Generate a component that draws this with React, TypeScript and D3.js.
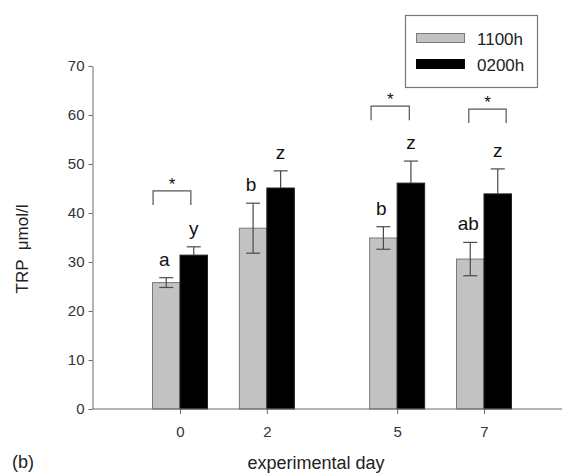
import * as d3 from 'd3';
import { useEffect, useRef } from 'react';

// experimental days (x is a real day scale, not bands)
const days = [0, 2, 5, 7];
const seriesNames = ['1100h', '0200h'];
const trp1100 = [25.8, 36.9, 34.9, 30.6];
const err1100 = [1.0, 5.1, 2.3, 3.4];
const trp0200 = [31.4, 45.1, 46.1, 43.9];
const err0200 = [1.7, 3.5, 4.5, 5.1];
const letters1100 = ['a', 'b', 'b', 'ab'];
const letters0200 = ['y', 'z', 'z', 'z'];
const yTicks = [0, 10, 20, 30, 40, 50, 60, 70];

// significance brackets: day, span (in days), level (umol/l)
const bracketDays = [0, 5, 7];
const bracketFrom = [-0.62, -0.6, -0.35];
const bracketTo = [0.25, 0.28, 0.51];
const bracketLevel = [44.5, 61.8, 61.2];

export default function App() {
  const ref = useRef<SVGSVGElement | null>(null);

  useEffect(() => {
    document.body.style.margin = '0';
    const svg = d3.select(ref.current);
    svg.selectAll('*').remove();

    const font = "'Liberation Sans', Arial, sans-serif";
    const axisColor = '#6a6a6a';
    const x = d3.scaleLinear().domain([0, 7]).range([180, 484]);
    const y = d3.scaleLinear().domain([0, 70]).range([409, 66]);
    const barW = 27.5;
    const axisX = 92.5;

    // y axis
    const gy = svg.append('g').attr('transform', `translate(${axisX},0)`)
      .call(d3.axisLeft(y).tickValues(yTicks).tickSize(4).tickSizeOuter(0).tickPadding(4));
    gy.select('.domain').attr('stroke', axisColor);
    gy.selectAll('line').attr('stroke', axisColor);
    gy.selectAll('text').style('font-family', font).style('font-size', '15px').attr('fill', '#333');

    // bars
    const rows = days.map((d, i) => ({ d, i }));
    svg.append('g').selectAll('rect').data(rows).enter().append('rect')
      .attr('x', r => x(r.d) - barW)
      .attr('y', r => y(trp1100[r.i]))
      .attr('width', barW)
      .attr('height', r => y(0) - y(trp1100[r.i]))
      .attr('fill', '#c2c2c2')
      .attr('stroke', '#7a7a7a')
      .attr('stroke-width', 1);
    svg.append('g').selectAll('rect').data(rows).enter().append('rect')
      .attr('x', r => x(r.d))
      .attr('y', r => y(trp0200[r.i]))
      .attr('width', barW)
      .attr('height', r => y(0) - y(trp0200[r.i]))
      .attr('fill', '#000')
      .attr('stroke', '#222');

    // error bars
    const cap = 7;
    const errG = svg.append('g').attr('stroke', '#4a4a4a').attr('stroke-width', 1.2).attr('fill', 'none');
    rows.forEach(r => {
      const cx = x(r.d) - barW / 2;
      const hi = y(trp1100[r.i] + err1100[r.i]);
      const lo = y(trp1100[r.i] - err1100[r.i]);
      errG.append('line').attr('x1', cx).attr('x2', cx).attr('y1', hi).attr('y2', lo);
      errG.append('line').attr('x1', cx - cap).attr('x2', cx + cap).attr('y1', hi).attr('y2', hi);
      errG.append('line').attr('x1', cx - cap).attr('x2', cx + cap).attr('y1', lo).attr('y2', lo);
      const bx = x(r.d) + barW / 2;
      const bhi = y(trp0200[r.i] + err0200[r.i]);
      errG.append('line').attr('x1', bx).attr('x2', bx).attr('y1', bhi).attr('y2', y(trp0200[r.i]));
      errG.append('line').attr('x1', bx - cap).attr('x2', bx + cap).attr('y1', bhi).attr('y2', bhi);
    });

    // letter labels
    const lab = svg.append('g').style('font-family', font).style('font-size', '19px').attr('text-anchor', 'middle').attr('fill', '#111');
    rows.forEach(r => {
      lab.append('text').attr('x', x(r.d) - barW / 2 - 2)
        .attr('y', y(trp1100[r.i] + err1100[r.i]) - 12).text(letters1100[r.i]);
      lab.append('text').attr('x', x(r.d) + barW / 2)
        .attr('y', y(trp0200[r.i] + err0200[r.i]) - 12).text(letters0200[r.i]);
    });

    // significance brackets
    const br = svg.append('g').attr('stroke', '#555').attr('stroke-width', 1.2).attr('fill', 'none');
    bracketDays.forEach((d, i) => {
      const x0 = x(d + bracketFrom[i]);
      const x1 = x(d + bracketTo[i]);
      const top = y(bracketLevel[i]);
      br.append('path').attr('d', `M${x0},${top + 14}V${top}H${x1}V${top + 14}`);
      svg.append('text').attr('x', (x0 + x1) / 2).attr('y', top - 1)
        .attr('text-anchor', 'middle').style('font-family', font).style('font-size', '17px')
        .attr('fill', '#111').text('*');
    });

    // x axis
    svg.append('line').attr('x1', axisX).attr('x2', 562).attr('y1', y(0)).attr('y2', y(0))
      .attr('stroke', axisColor);
    const gx = svg.append('g').attr('transform', `translate(0,${y(0)})`)
      .call(d3.axisBottom(x).tickValues(days).tickFormat(d3.format('d')).tickSize(5).tickSizeOuter(0).tickPadding(12));
    gx.select('.domain').remove();
    gx.selectAll('line').attr('stroke', axisColor);
    gx.selectAll('text').style('font-family', font).style('font-size', '15px').attr('fill', '#333');

    // axis titles
    svg.append('text').attr('transform', 'translate(28,249) rotate(-90)')
      .attr('text-anchor', 'middle').style('font-family', font).style('font-size', '17px')
      .attr('fill', '#222').attr('xml:space', 'preserve').text('TRP  μmol/l');
    svg.append('text').attr('x', 316).attr('y', 469).attr('text-anchor', 'middle')
      .style('font-family', font).style('font-size', '18px').attr('fill', '#222').text('experimental day');
    svg.append('text').attr('x', 12).attr('y', 468)
      .style('font-family', font).style('font-size', '18px').attr('fill', '#222').text('(b)');

    // legend
    const lg = svg.append('g');
    lg.append('rect').attr('x', 405.5).attr('y', 15.5).attr('width', 132).attr('height', 72)
      .attr('fill', '#fff').attr('stroke', '#777').attr('stroke-width', 1.2);
    const fills = ['#c2c2c2', '#000'];
    seriesNames.forEach((name, i) => {
      lg.append('rect').attr('x', 416.5).attr('y', 33.5 + i * 26).attr('width', 48).attr('height', 9)
        .attr('fill', fills[i]).attr('stroke', i === 0 ? '#7a7a7a' : '#000');
      lg.append('text').attr('x', 477).attr('y', 45 + i * 26)
        .style('font-family', font).style('font-size', '17px').attr('fill', '#222').text(name);
    });
  }, []);

  return <svg ref={ref} width={567} height={476} style={{ display: 'block', background: '#fff' }} />;
}
